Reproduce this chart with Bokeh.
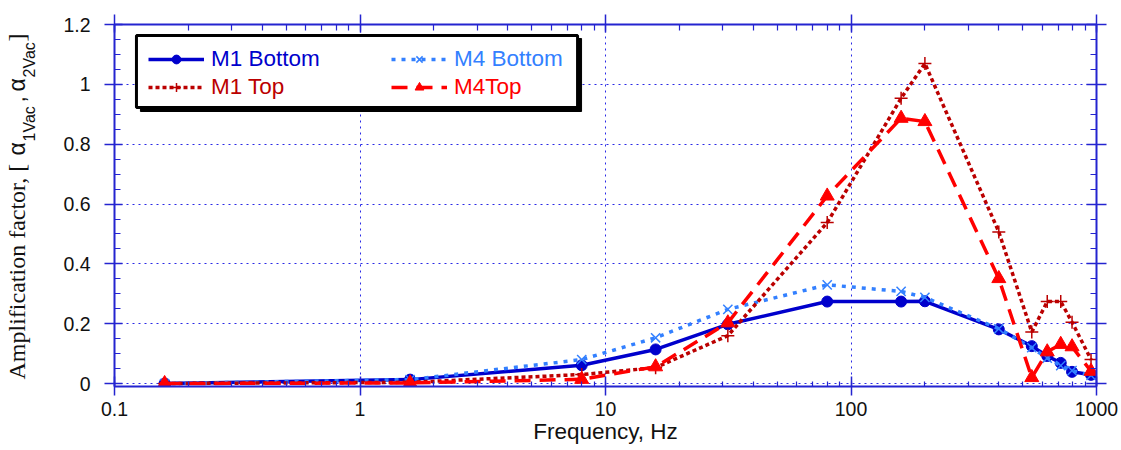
import math
from bokeh.plotting import figure
from bokeh.layouts import row
from bokeh.models import (LogAxis, LinearAxis, Legend, LegendItem, Label, BoxAnnotation,
                          CustomJSTickFormatter, LogTicker, SingleIntervalTicker, Range1d)
from bokeh.embed import file_html
from bokeh.resources import INLINE

# ---------------- data ----------------
freq_hz = [0.16, 1.6, 8, 16, 31.5, 80, 160, 200, 400, 545, 630, 715, 795, 950]
m1_bottom = [0.0, 0.013, 0.061, 0.114, 0.198, 0.274, 0.274, 0.275, 0.181, 0.125, 0.092, 0.069, 0.039, 0.029]
m4_bottom = [0.0, 0.013, 0.080, 0.153, 0.248, 0.330, 0.308, 0.288, 0.183, 0.120, 0.085, 0.060, 0.043, 0.027]
m1_top = [0.0, 0.004, 0.030, 0.053, 0.160, 0.538, 0.954, 1.070, 0.507, 0.172, 0.274, 0.274, 0.205, 0.080]
m4_top = [0.0, 0.002, 0.014, 0.056, 0.203, 0.627, 0.887, 0.876, 0.351, 0.020, 0.106, 0.131, 0.123, 0.041]
series_names = ["M1 Bottom", "M4 Bottom", "M1 Top", "M4Top"]
x_title = "Frequency, Hz"

# ---------------- layout ----------------
W, H = 1121, 450
LW = 60                     # strip on the left that carries the y title
FL, FR, FT, FB = 112, 1096, 24, 386   # frame edges in page pixels
X0, X1 = 0.1, 1000
Y0, Y1 = -0.01, 1.2005
SIDE_DX = 12                # horizontal offset of the strip's frame (measured)

AX = "#2424d0"
GRID = "#2a2ae6"
C_M1B = "#0000cc"
C_M4B = "#3380ff"
C_M1T = "#bb0000"
C_M4T = "#ff0000"
SANS = "Liberation Sans"
SERIF = "Liberation Serif"
INK = "#111111"

p = figure(width=W - LW, height=H, x_axis_type="log", title=None,
           x_range=Range1d(X0, X1), y_range=Range1d(Y0, Y1),
           output_backend="svg", toolbar_location=None,
           min_border_left=FL - LW, min_border_right=W - FR,
           min_border_top=FT, min_border_bottom=H - FB)
p.outline_line_color = None
p.background_fill_color = "white"
p.border_fill_color = "white"

xt = LogTicker(num_minor_ticks=10)
yt = SingleIntervalTicker(interval=0.2, num_minor_ticks=4)
xfmt = CustomJSTickFormatter(code="return tick < 1 ? tick.toFixed(1) : tick.toFixed(0);")
yfmt = CustomJSTickFormatter(code="return (Math.round(tick*10)/10).toString();")
blank = CustomJSTickFormatter(code="return '';")


def style_axis(ax, tin, tout, minin):
    ax.axis_line_color = AX
    ax.axis_line_width = 2
    ax.major_tick_line_color = AX
    ax.major_tick_line_width = 1.5
    ax.minor_tick_line_color = AX
    ax.minor_tick_line_width = 1.2
    ax.major_tick_in = tin
    ax.major_tick_out = tout
    ax.minor_tick_in = minin
    ax.minor_tick_out = 0
    ax.major_label_text_font = SANS
    ax.major_label_text_font_size = "19.5px"
    ax.major_label_text_color = INK


xa = p.xaxis[0]
xa.ticker = xt
xa.formatter = xfmt
style_axis(xa, 10, 9, 5)
xa.major_label_standoff = 6
xa.axis_label = x_title
xa.axis_label_text_font = SANS
xa.axis_label_text_font_size = "22.5px"
xa.axis_label_text_font_style = "normal"
xa.axis_label_text_color = INK
xa.axis_label_standoff = 0

ya = p.yaxis[0]
ya.ticker = yt
ya.formatter = yfmt
style_axis(ya, 8, 10, 6)
ya.major_label_standoff = 14

top = LogAxis(ticker=xt, formatter=blank)
style_axis(top, 8, 10, 6)
top.major_label_text_font_size = "1px"
top.major_label_standoff = 0
p.add_layout(top, "above")

right = LinearAxis(ticker=yt, formatter=blank)
style_axis(right, 10, 10, 6)
right.major_label_text_font_size = "1px"
right.major_label_standoff = 0
p.add_layout(right, "right")

for g in (p.xgrid[0], p.ygrid[0]):
    g.grid_line_color = GRID
    g.grid_line_width = 1
    g.grid_line_dash = "2 4"

# ---------------- series ----------------
l1 = p.line(freq_hz, m1_bottom, line_color=C_M1B, line_width=3.5)
s1 = p.scatter(freq_hz, m1_bottom, marker="circle", size=11, fill_color=C_M1B, line_color=C_M1B)
l2 = p.line(freq_hz, m4_bottom, line_color=C_M4B, line_width=3.5, line_dash="4 6")
s2 = p.scatter(freq_hz, m4_bottom, marker="x", size=13, line_color=C_M4B, line_width=1.5)
l3 = p.line(freq_hz, m1_top, line_color=C_M1T, line_width=3.5, line_dash="4 3")
s3 = p.scatter(freq_hz, m1_top, marker="cross", size=13, line_color=C_M1T, line_width=1.5)
l4 = p.line(freq_hz, m4_top, line_color=C_M4T, line_width=3.5, line_dash="16 9")
s4 = p.scatter(freq_hz, m4_top, marker="triangle", size=14, fill_color=C_M4T, line_color=C_M4T)


# ---------------- legend box ----------------
def px2x(px):
    return 10 ** (math.log10(X0) + (px - FL) / (FR - FL) * (math.log10(X1) - math.log10(X0)))


def px2y(py):
    return Y1 - (py - FT) / (FB - FT) * (Y1 - Y0)


shadow = BoxAnnotation(left=px2x(138), right=px2x(580), top=px2y(38), bottom=px2y(111),
                       fill_color="black", fill_alpha=1, line_color="black", line_alpha=1)
box = BoxAnnotation(left=px2x(134), right=px2x(576), top=px2y(35), bottom=px2y(107),
                    fill_color="white", fill_alpha=1, line_color="black", line_width=3, line_alpha=1)
p.add_layout(shadow)
p.add_layout(box)

leg_specs = [
    ([l1, s1], series_names[0], C_M1B, 146 - FL, FB - 72),
    ([l2, s2], series_names[1], C_M4B, 389 - FL, FB - 72),
    ([l3, s3], series_names[2], C_M1T, 146 - FL, FB - 100),
    ([l4, s4], series_names[3], C_M4T, 389 - FL, FB - 100),
]
for rs, name, col, lx, ly in leg_specs:
    leg = Legend(items=[LegendItem(label=name, renderers=rs)], location=(lx, ly),
                 padding=0, margin=0, spacing=0, glyph_width=56, glyph_height=22,
                 label_height=22, label_standoff=7, label_text_font=SANS,
                 label_text_font_size="22.5px", label_text_color=col,
                 background_fill_alpha=0, border_line_alpha=0)
    p.add_layout(leg)

# ---------------- y title strip (rich text placed in pieces) ----------------
side = figure(width=LW, height=H, title=None, x_range=Range1d(0, 1), y_range=Range1d(0, 1),
              x_axis_location=None, y_axis_location=None, output_backend="svg",
              toolbar_location=None, min_border=0)
side.outline_line_color = None
side.grid.visible = False
side.background_fill_color = "white"
side.border_fill_color = "white"

ytitle = [
    ("Amplification factor, [", SERIF, "24px", 28, 379),
    ("\u03b1", SANS, "23px", 28, 155),
    ("1Vac", SANS, "16px", 41, 141),
    (",", SANS, "23px", 28, 102),
    ("\u03b1", SANS, "23px", 28, 91),
    ("2Vac", SANS, "16px", 41, 77),
    ("]", SERIF, "24px", 28, 41),
]
for txt, font, size, cx, cy in ytitle:
    side.add_layout(Label(x=cx - SIDE_DX, y=FB - cy, x_units="screen", y_units="screen", text=txt,
                          angle=math.pi / 2, text_align="left", text_baseline="alphabetic",
                          text_font=font, text_font_size=size, text_color=INK))

layout = row(side, p)
open("out.html", "w").write(file_html(layout, INLINE))
